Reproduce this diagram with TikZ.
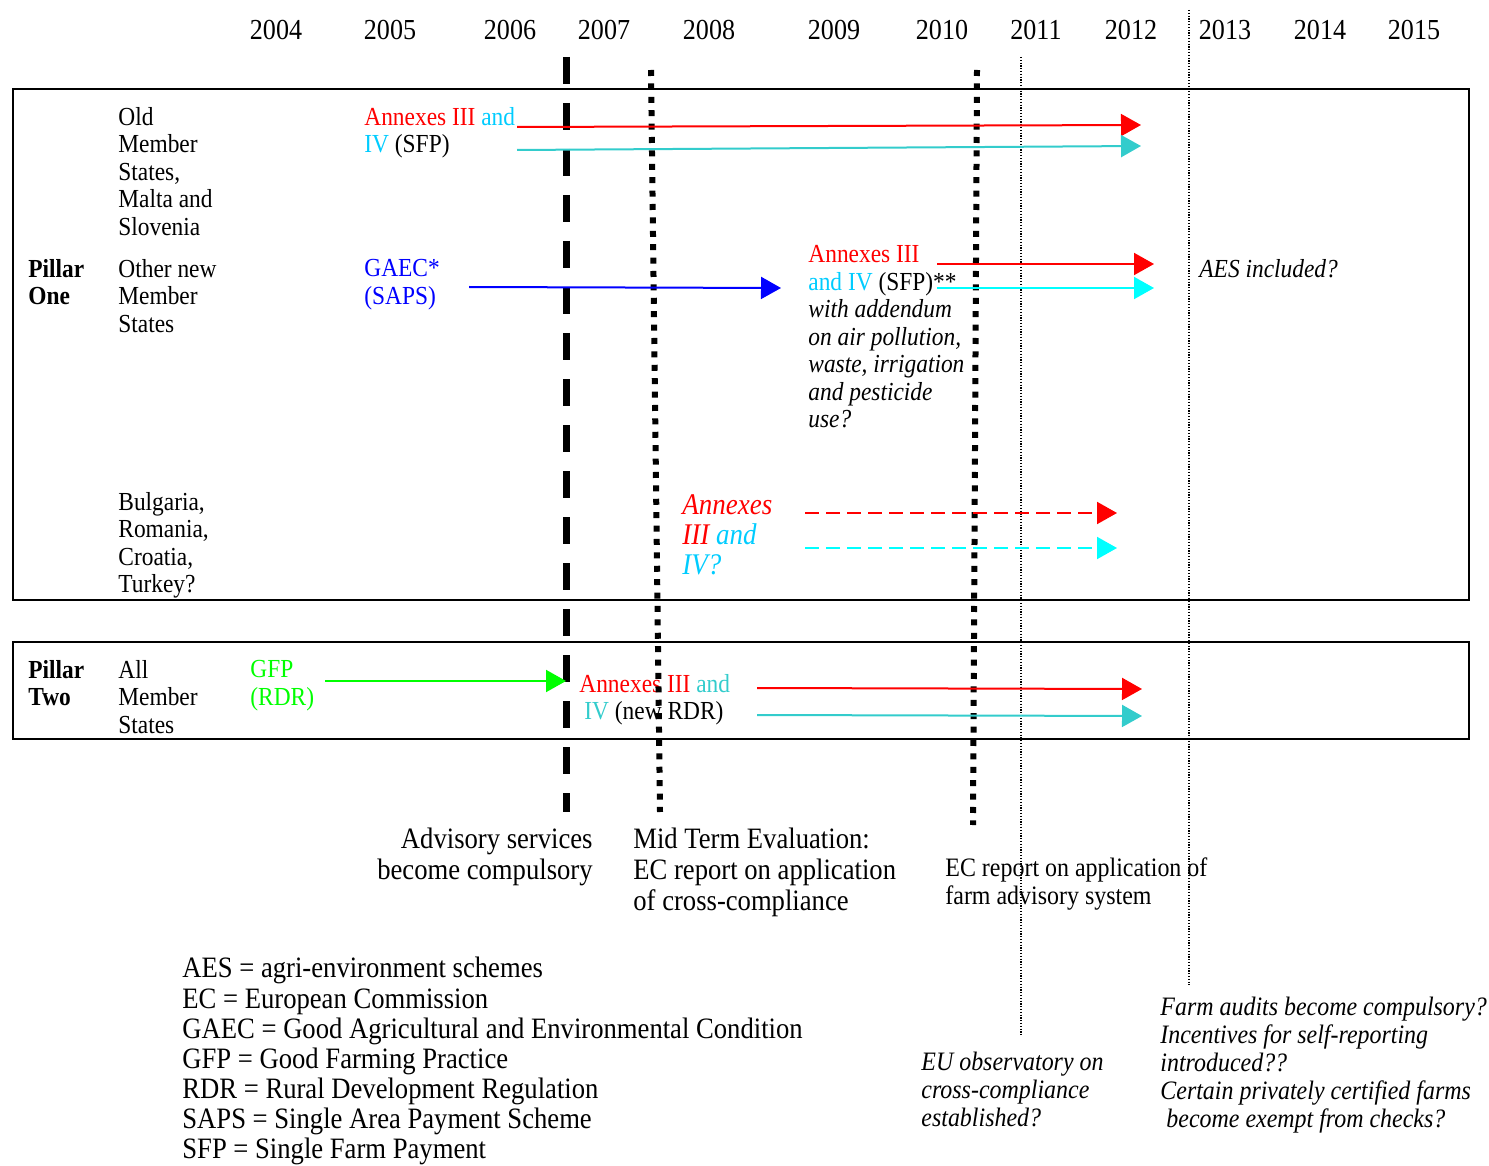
\documentclass[tikz,border=0pt]{standalone}
\usepackage{fontspec}
\setmainfont[FakeStretch=0.9]{Liberation Serif}
\usetikzlibrary{arrows.meta,
positioning}
\definecolor{annred}{RGB}{255,0,0}
\definecolor{annsky}{RGB}{0,204,255}
\definecolor{annteal}{RGB}{51,204,204}
\definecolor{anncyan}{RGB}{0,255,255}
\definecolor{gaecblue}{RGB}{0,0,255}
\definecolor{gfpgreen}{RGB}{0,255,0}

\begin{document}
\begin{tikzpicture} [x=0.5pt,
    y=-0.5pt,
    >={Triangle[length=10pt,width=11pt]},
    main text/.style={anchor=north west, inner sep=0pt, align=left,
        font=\fontsize{13}{13.75}\selectfont},
    big text/.style={anchor=north west, inner sep=0pt, align=left,
        font=\fontsize{14.8}{15.35}\selectfont},
    year label/.style={inner sep=0pt, font=\fontsize{14.5}{16}\selectfont},
    pillar box/.style={line width=1pt},
    plan arrow/.style={->, line width=1pt},
    maybe/.style={dash pattern=on 7pt off 3.5pt},
    compulsory line/.style={line width=3.5pt, dash pattern=on 13.5pt off 9.5pt},
    report line/.style={line width=3pt, dash pattern=on 3pt off 3.7pt},
    year line/.style={line width=0.6pt, dash pattern=on 0.6pt off 0.8pt}
  ]
  \useasboundingbox (0,0) rectangle (1489,1166);

  % years
  \foreach \yr/\xp in {2004/276, 2005/390, 2006/510, 2007/604, 2008/709,
      2009/834, 2010/942, 2011/1036, 2012/1131, 2013/1225, 2014/1320, 2015/1414}
    \node [year label] (y\yr) at (\xp, 30) {\yr};

  % pillar boxes
  \draw [pillar box] (13, 89) rectangle (1469, 600);
  \draw [pillar box] (13, 642) rectangle (1469, 739);

  %%%%%%%%%%%%%%%%%%%%%%%%%%%%%%

  \node [main text] (oldms) at (118, 107)
    {Old\\Member\\States,\\Malta and\\Slovenia};
  \node [main text, font=\fontsize{13}{13.75}\selectfont\bfseries] (pone) at (28, 259)
    {Pillar\\One};
  \node [main text] (newms) at (118, 259)
    {Other new\\Member\\States};
  \node [main text] (bgms) at (118, 492)
    {Bulgaria,\\Romania,\\Croatia,\\Turkey?};

  \node [main text] (sfp) at (364, 107)
    {\textcolor{annred}{Annexes III} \textcolor{annsky}{and}\\
     \textcolor{annsky}{IV} (SFP)};
  \node [main text, text=gaecblue] (gaec) at (364, 259)
    {GAEC*\\(SAPS)};
  \node [main text] (sfpnew) at (808, 245)
    {\textcolor{annred}{Annexes III}\\
     \textcolor{annsky}{and IV} (SFP)**\\
     \textit{with addendum}\\
     \textit{on air pollution,}\\
     \textit{waste, irrigation}\\
     \textit{and pesticide}\\
     \textit{use?}};
  \node [main text, font=\fontsize{13}{13.75}\selectfont\itshape] (aes) at (1199, 259)
    {AES included?};
  \node [main text, font=\fontsize{15}{15}\selectfont\itshape] (annq) at (682, 494)
    {\textcolor{annred}{Annexes}\\
     \textcolor{annred}{III} \textcolor{annsky}{and}\\
     \textcolor{annsky}{IV?}};

  \node [main text, font=\fontsize{13}{13.75}\selectfont\bfseries] (ptwo) at (28, 660)
    {Pillar\\Two};
  \node [main text] (allms) at (118, 660)
    {All\\Member\\States};
  \node [main text, text=gfpgreen] (gfp) at (250, 660)
    {GFP\\(RDR)};
  \node [main text] (rdr) at (579, 674)
    {\textcolor{annred}{Annexes III} \textcolor{annteal}{and}\\
     \hspace{2.5pt}\textcolor{annteal}{IV} (new RDR)};

  % milestones
  \node [big text, anchor=north east, align=right] (advisory) at (593, 828)
    {Advisory services\\become compulsory};
  \node [big text] (midterm) at (633, 828)
    {Mid Term Evaluation:\\EC report on application\\of cross-compliance};
  \node [main text, font=\fontsize{13.3}{14}\selectfont] (fasreport) at (945, 857)
    {EC report on application of\\farm advisory system};
  \node [main text, font=\fontsize{13.3}{14}\selectfont\itshape] (observatory) at (921, 1052)
    {EU observatory on\\cross-compliance\\established?};
  \node [main text, font=\fontsize{13.3}{14}\selectfont\itshape] (audits) at (1160, 997)
    {Farm audits become compulsory?\\
     Incentives for self-reporting\\
     introduced??\\
     Certain privately certified farms\\
     \hspace{3pt}become exempt from checks?};

  % abbreviations
  \node [big text, font=\fontsize{14.8}{15.05}\selectfont] (legend) at (182, 957)
    {AES = agri-environment schemes\\
     EC = European Commission\\
     GAEC = Good Agricultural and Environmental Condition\\
     GFP = Good Farming Practice\\
     RDR = Rural Development Regulation\\
     SAPS = Single Area Payment Scheme\\
     SFP = Single Farm Payment};

  %%%%%%%%%%%%%%%%%%%%%%%%%%%%%%

  \draw [compulsory line] (566, 57) -- (566, 812);
  \draw [report line] (651, 70) -- (660, 812);
  \draw [report line] (977, 70) -- (973, 825);
  \draw [year line] (1021, 57) -- (1021, 1035);
  \draw [year line] (1189, 10) -- (1189, 985);

  %%%%%%%%%%%%%%%%%%%%%%%%%%%%%%

  \coordinate (sfpred) at (517, 127);
  \coordinate (sfpteal) at (517, 150);
  \coordinate (saps) at (469, 287);
  \coordinate (sfpnewred) at (937, 264);
  \coordinate (sfpnewcyan) at (937, 288);
  \coordinate (bgred) at (805, 513);
  \coordinate (bgcyan) at (805, 548);
  \coordinate (gfpgo) at (325, 681);
  \coordinate (rdrred) at (757, 688);
  \coordinate (rdrteal) at (757, 715);

  \draw [plan arrow, annred] (sfpred) -> (1141, 125);
  \draw [plan arrow, annteal] (sfpteal) -> (1141, 146);
  \draw [plan arrow, gaecblue] (saps) -> (781, 288);
  \draw [plan arrow, annred] (sfpnewred) -> (1154, 264);
  \draw [plan arrow, anncyan] (sfpnewcyan) -> (1154, 288);
  \draw [plan arrow, annred, maybe] (bgred) -> (1117, 513);
  \draw [plan arrow, anncyan, maybe] (bgcyan) -> (1117, 548);
  \draw [plan arrow, gfpgreen] (gfpgo) -> (566, 681);
  \draw [plan arrow, annred] (rdrred) -> (1142, 689);
  \draw [plan arrow, annteal] (rdrteal) -> (1142, 716);

\end{tikzpicture}
\end{document}
